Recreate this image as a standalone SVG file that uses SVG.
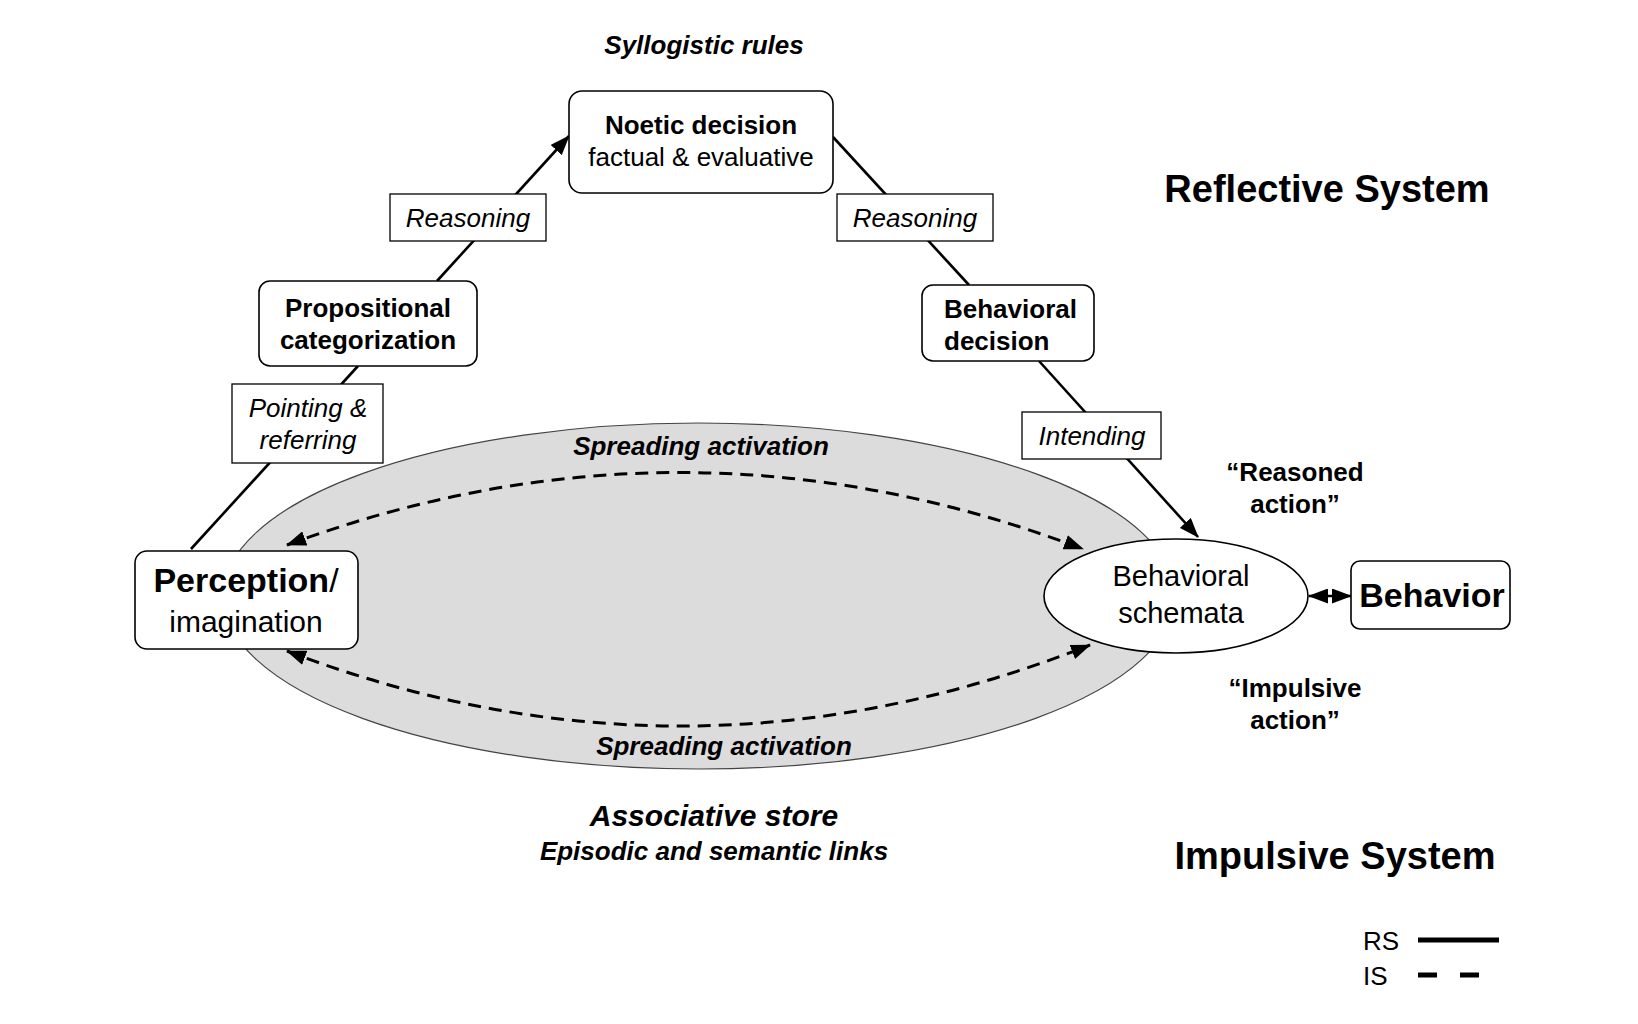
<svg xmlns="http://www.w3.org/2000/svg" width="1638" height="1024" viewBox="0 0 1638 1024">
<defs>
<style>
text{font-family:"Liberation Sans",Arial,Helvetica,sans-serif;font-size:26px;fill:#000;text-anchor:middle}
.b{font-weight:bold}
.i{font-style:italic}
.bi{font-weight:bold;font-style:italic}
.node{fill:#fff;stroke:#000;stroke-width:1.6}
.lab{fill:#fff;stroke:#000;stroke-width:1.3}
.rs{fill:none;stroke:#000;stroke-width:2.6}
.is{fill:none;stroke:#000;stroke-width:3;stroke-dasharray:13 8}
</style>
<marker id="ah" viewBox="0 0 20 15" refX="19" refY="7.5" markerWidth="20" markerHeight="15" markerUnits="userSpaceOnUse" orient="auto-start-reverse">
<path d="M0,0 L20,7.5 L0,15 z" fill="#000"/>
</marker>
</defs>
<rect width="1638" height="1024" fill="#fff"/>

<g id="associative-store">
<ellipse cx="699" cy="596" rx="476" ry="173" fill="#dcdcdc" stroke="#444" stroke-width="1.2"/>
<text class="bi" x="701" y="455">Spreading activation</text>
<text class="bi" x="724" y="755">Spreading activation</text>
<text class="bi" x="714" y="826" style="font-size:30px">Associative store</text>
<text class="bi" x="714" y="860">Episodic and semantic links</text>
</g>

<g id="connectors">
<path class="is" d="M287,545 Q685,398 1083,549" marker-start="url(#ah)" marker-end="url(#ah)"/>
<path class="is" d="M287,651 Q688,804 1090,645" marker-start="url(#ah)" marker-end="url(#ah)"/>
<line class="rs" x1="191" y1="549" x2="358" y2="366"/>
<line class="rs" x1="437" y1="281" x2="569" y2="136" marker-end="url(#ah)"/>
<line class="rs" x1="833" y1="137" x2="969" y2="285"/>
<line class="rs" x1="1039" y1="361" x2="1198" y2="537" marker-end="url(#ah)"/>
<line class="rs" x1="1309" y1="596" x2="1351" y2="596" marker-start="url(#ah)" marker-end="url(#ah)"/>
</g>

<g id="syllogistic-rules"><text class="bi" x="704" y="54">Syllogistic rules</text></g>

<g id="noetic-decision">
<rect class="node" x="569" y="91" width="264" height="102" rx="13"/>
<text class="b" x="701" y="134">Noetic decision</text>
<text x="701" y="166">factual &amp; evaluative</text>
</g>

<g id="reasoning-left">
<rect class="lab" x="390" y="194" width="156" height="47"/>
<text class="i" x="468" y="227">Reasoning</text>
</g>

<g id="reasoning-right">
<rect class="lab" x="837" y="194" width="156" height="47"/>
<text class="i" x="915" y="227">Reasoning</text>
</g>

<g id="propositional-categorization">
<rect class="node" x="259" y="281" width="218" height="85" rx="11"/>
<text class="b" x="368" y="317">Propositional</text>
<text class="b" x="368" y="349">categorization</text>
</g>

<g id="pointing-referring">
<rect class="lab" x="232" y="384" width="151" height="79"/>
<text class="i" x="308" y="417">Pointing &amp;</text>
<text class="i" x="308" y="449">referring</text>
</g>

<g id="perception">
<rect class="node" x="135" y="551" width="223" height="98" rx="12"/>
<text x="246" y="592" style="font-size:34px"><tspan class="b">Perception</tspan>/</text>
<text x="246" y="632" style="font-size:30px">imagination</text>
</g>

<g id="behavioral-decision">
<rect class="node" x="922" y="285" width="172" height="76" rx="11"/>
<text class="b" x="944" y="318" style="text-anchor:start">Behavioral</text>
<text class="b" x="944" y="350" style="text-anchor:start">decision</text>
</g>

<g id="intending">
<rect class="lab" x="1022" y="412" width="139" height="47"/>
<text class="i" x="1092" y="445">Intending</text>
</g>

<g id="behavioral-schemata">
<ellipse cx="1176" cy="596" rx="132" ry="57" fill="#fff" stroke="#000" stroke-width="1.6"/>
<text x="1181" y="586" style="font-size:29px">Behavioral</text>
<text x="1181" y="623" style="font-size:29px">schemata</text>
</g>

<g id="behavior">
<rect class="node" x="1351" y="561" width="159" height="68" rx="9"/>
<text class="b" x="1432" y="607" style="font-size:34px">Behavior</text>
</g>

<g id="labels">
<text class="b" x="1327" y="202" style="font-size:38px">Reflective System</text>
<text class="b" x="1335" y="869" style="font-size:38px">Impulsive System</text>
<text class="b" x="1295" y="481">“Reasoned</text>
<text class="b" x="1295" y="513">action”</text>
<text class="b" x="1295" y="697">“Impulsive</text>
<text class="b" x="1295" y="729">action”</text>
</g>

<g id="legend">
<text x="1363" y="950" style="text-anchor:start">RS</text>
<text x="1363" y="985" style="text-anchor:start">IS</text>
<line x1="1418" y1="940" x2="1499" y2="940" stroke="#000" stroke-width="5"/>
<line x1="1418" y1="975" x2="1481" y2="975" stroke="#000" stroke-width="5" stroke-dasharray="19 23"/>
</g>
</svg>
